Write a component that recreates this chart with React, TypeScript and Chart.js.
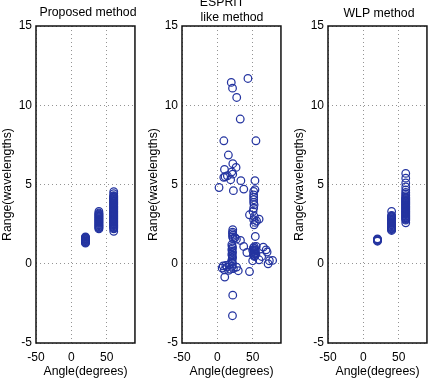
import React, { useEffect, useRef } from "react";
import { Chart, registerables } from "chart.js";

Chart.register(...registerables);

const FONT = "'Liberation Sans', Arial, Helvetica, sans-serif";
const MARK = "#2434a0";

// Axis settings (tick values)
const X_MIN = -50;
const X_MAX = 90;
const X_STEP = 50;
const Y_MIN = -5;
const Y_MAX = 15;
const Y_STEP = 5;

const X_TITLE = "Angle(degrees)";
const Y_TITLE = "Range(wavelengths)";

// ---- Proposed method: three tight clusters ----
const propAngles = [20, 39, 60];
const propRangeA = [1.3, 1.34, 1.38, 1.42, 1.46, 1.5, 1.54, 1.58, 1.62, 1.66, 1.7];
const propRangeB = [
  2.2, 2.25, 2.3, 2.35, 2.4, 2.45, 2.5, 2.55, 2.6, 2.65, 2.7, 2.75, 2.8, 2.85, 2.9, 2.95, 3.0, 3.05, 3.1, 3.15, 3.2,
  3.3,
];
const propRangeC = [
  2.05, 2.2, 2.25, 2.3, 2.35, 2.4, 2.45, 2.5, 2.55, 2.6, 2.65, 2.7, 2.75, 2.8, 2.85, 2.9, 2.95, 3.0, 3.05, 3.1, 3.15,
  3.2, 3.25, 3.3, 3.35, 3.4, 3.45, 3.5, 3.55, 3.6, 3.65, 3.7, 3.75, 3.8, 3.85, 3.9, 3.95, 4.0, 4.05, 4.1, 4.15, 4.2,
  4.25, 4.3, 4.42, 4.55,
];

// ---- WLP method ----
const wlpAngles = [20, 40, 60];
const wlpRangeA = [1.42, 1.46, 1.5, 1.54, 1.57];
const wlpRangeB = [
  2.1, 2.15, 2.2, 2.25, 2.3, 2.35, 2.4, 2.45, 2.5, 2.55, 2.6, 2.65, 2.7, 2.75, 2.8, 2.85, 2.9, 2.95, 3.0, 3.05, 3.3,
];
const wlpRangeC = [
  2.58, 2.75, 2.8, 2.85, 2.9, 2.95, 3.0, 3.05, 3.1, 3.15, 3.2, 3.25, 3.3, 3.35, 3.4, 3.45, 3.5, 3.55, 3.6, 3.65, 3.7,
  3.75, 3.8, 3.85, 3.9, 3.95, 4.0, 4.05, 4.1, 4.15, 4.2, 4.3, 4.4, 4.5, 4.65, 4.85, 5.1, 5.4, 5.7,
];

// ---- ESPRIT like method: scattered estimates ----
const espritAngle = [
  19.7, 21.5, 43.3, 27.4, 32.4, 9.2, 54.6, 15.6, 21.9, 26.5, 10.1, 20.5, 11, 18.8, 33.3, 53.2, 2.4, 22.7, 37.4, 53.2,
  9.1, 14.2, 21.8,
  51.4, 51.4, 51.4, 51.4, 51.4, 52, 51.4, 45.5, 52.3, 51.4, 53.7, 59.1, 52, 53.7, 50.5, 55.5,
  21.8, 21.5, 21.5, 22, 21.5, 22.5, 25, 27, 32.7, 37.3, 41.8,
  20.5, 21, 21.5, 20.5, 21, 21.5, 20.5, 21, 21.5, 21, 20.5, 21, 21.5,
  52.3, 51, 53, 52, 54, 51.5, 53, 52, 54.5, 51, 53, 52.3, 50, 55,
  65, 69, 70.4, 62.7, 50, 59, 73.6, 78.2, 71.8, 45.5,
  6.8, 10, 13.6, 18.2, 22.7, 27.2, 29.6, 15.9, 20.4, 8.2, 12, 17,
  10.5, 21.8, 21.4,
];
const espritRange = [
  11.44, 11.08, 11.69, 10.49, 9.13, 7.76, 7.76, 6.86, 6.31, 6.08, 5.95, 5.8, 5.49, 5.3, 5.24, 5.24, 4.81, 4.61, 4.71, 4.67,
  5.45, 5.55, 5.65,
  4.56, 4.35, 4.2, 4.04, 3.87, 3.72, 3.51, 3.09, 2.98, 2.78, 2.61, 2.82, 2.46, 1.72, 3.3, 2.7,
  2.15, 2.0, 1.9, 1.8, 1.7, 1.6, 1.65, 1.55, 1.47, 1.09, 0.71,
  1.2, 1.1, 1.0, 0.9, 0.8, 0.7, 0.6, 0.5, 0.4, 0.3, 0.2, 0.1, 0.0,
  1.07, 1.0, 0.95, 0.88, 0.82, 0.76, 0.7, 0.64, 0.6, 0.55, 0.5, 0.46, 0.85, 1.1,
  1.05, 0.88, 0.74, 0.46, 0.19, 0.25, 0.19, 0.21, 0.0, -0.49,
  -0.27, -0.38, -0.21, -0.34, -0.3, -0.21, -0.44, -0.42, -0.17, -0.13, -0.1, -0.05,
  -0.84, -1.98, -3.28,
];

type Pt = { x: number; y: number };

function clusters(angles: number[], ranges: number[][]): Pt[] {
  const out: Pt[] = [];
  angles.forEach((a, i) => ranges[i].forEach((r) => out.push({ x: a, y: r })));
  return out;
}

function pairs(xs: number[], ys: number[]): Pt[] {
  return xs.map((x, i) => ({ x, y: ys[i] }));
}

type TitleLine = { text: string; x: number; y: number };

const framePlugin = {
  id: "frameBox",
  afterDraw(chart: any) {
    const { ctx, chartArea: a } = chart;
    ctx.save();
    ctx.strokeStyle = "#111";
    ctx.lineWidth = 1.5;
    ctx.setLineDash([]);
    ctx.strokeRect(a.left, a.top, a.right - a.left, a.bottom - a.top);
    ctx.restore();
  },
};

const titlePlugin = {
  id: "panelTitle",
  afterDraw(chart: any, _args: any, opts: any) {
    const lines: TitleLine[] = opts.lines || [];
    const { ctx } = chart;
    ctx.save();
    ctx.fillStyle = "#000";
    ctx.font = `12.3px ${FONT}`;
    ctx.textAlign = "center";
    ctx.textBaseline = "alphabetic";
    lines.forEach((l) => ctx.fillText(l.text, l.x, l.y));
    ctx.restore();
  },
};

function Panel(props: { left: number; data: Pt[]; titles: TitleLine[] }) {
  const ref = useRef<HTMLCanvasElement | null>(null);
  useEffect(() => {
    if (!ref.current) return;
    const gridCommon = { color: "rgba(0,0,0,0.42)", lineWidth: 1, drawTicks: false, tickLength: 0 };
    const chart = new Chart(ref.current, {
      type: "scatter",
      data: {
        datasets: [
          {
            data: props.data,
            borderColor: MARK,
            backgroundColor: "rgba(0,0,0,0)",
            pointRadius: 3.8,
            pointBorderWidth: 1.25,
            pointHoverRadius: 3.8,
          },
        ],
      },
      options: {
        responsive: false,
        animation: false,
        events: [],
        layout: { padding: { top: 26, right: 1, bottom: 0, left: 0 } },
        plugins: {
          legend: { display: false },
          tooltip: { enabled: false },
          panelTitle: { lines: props.titles },
        } as any,
        scales: {
          x: {
            type: "linear",
            min: X_MIN,
            max: X_MAX,
            afterFit: (s: any) => {
              s.height = 36;
            },
            ticks: {
              stepSize: X_STEP,
              includeBounds: false,
              padding: 7,
              color: "#000",
              maxRotation: 0,
              font: { family: FONT, size: 12 },
            },
            grid: gridCommon,
            border: { display: false, dash: [1, 3] },
            title: {
              display: true,
              text: X_TITLE,
              color: "#000",
              font: { family: FONT, size: 12.3 },
              padding: { top: 0, bottom: 0 },
            },
          },
          y: {
            type: "linear",
            min: Y_MIN,
            max: Y_MAX,
            afterFit: (s: any) => {
              s.width = 36;
            },
            ticks: {
              stepSize: Y_STEP,
              includeBounds: false,
              padding: 4,
              color: "#000",
              font: { family: FONT, size: 12 },
            },
            grid: gridCommon,
            border: { display: false, dash: [1, 3] },
            title: {
              display: true,
              text: Y_TITLE,
              color: "#000",
              font: { family: FONT, size: 12.3 },
              padding: { top: 0, bottom: 0 },
            },
          },
        },
      } as any,
      plugins: [framePlugin, titlePlugin],
    });
    return () => chart.destroy();
  }, []);
  return (
    <canvas
      ref={ref}
      width={140}
      height={379}
      style={{ position: "absolute", left: props.left, top: 0, width: 140, height: 379 }}
    />
  );
}

export default function App() {
  const proposed = clusters(propAngles, [propRangeA, propRangeB, propRangeC]);
  const wlp = clusters(wlpAngles, [wlpRangeA, wlpRangeB, wlpRangeC]);
  const esprit = pairs(espritAngle, espritRange);
  return (
    <div
      style={{
        position: "absolute",
        left: 0,
        top: 0,
        width: 432,
        height: 379,
        overflow: "hidden",
        background: "#fff",
      }}
    >
      <Panel left={0} data={proposed} titles={[{ text: "Proposed method", x: 88, y: 16 }]} />
      <Panel
        left={146}
        data={esprit}
        titles={[
          { text: "ESPRIT", x: 76, y: 6 },
          { text: "like method", x: 86, y: 20.5 },
        ]}
      />
      <Panel left={292} data={wlp} titles={[{ text: "WLP method", x: 87, y: 16.5 }]} />
    </div>
  );
}
